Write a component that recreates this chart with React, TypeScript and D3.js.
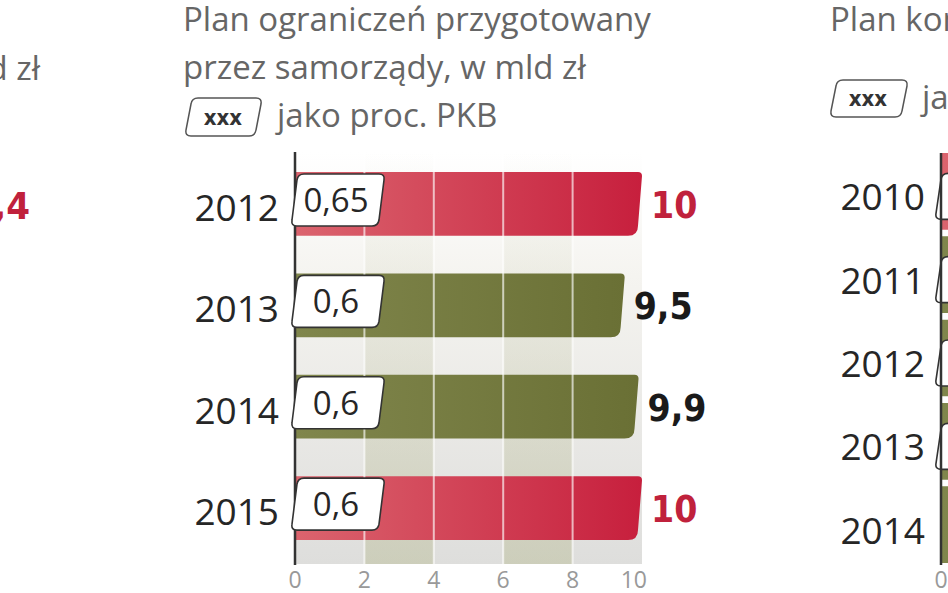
import * as d3 from "d3";

// main panel
const years = ["2012", "2013", "2014", "2015"];
const values = [10, 9.5, 9.9, 10];
const pkb = [0.65, 0.6, 0.6, 0.6];
const redRows = ["2012", "2015"];
const ticks = [0, 2, 4, 6, 8, 10];
const titleLines = ["Plan ograniczeń przygotowany", "przez samorządy, w mld zł"];
const legendText = "jako proc. PKB";

// cut-off neighbour panels
const leftTitleEnd = "w mld zł";
const leftFirstValue = 10.4;
const rightTitle = "Plan konsolidacji finansów publicznych";
const rightYears = ["2010", "2011", "2012", "2013", "2014"];
const rightValues = [10, 10, 10, 10, 10];
const rightRedRows = ["2010"];
const rightBoxRows = ["2010", "2011", "2012", "2013"];

const W = 948;
const H = 593;

const pl = d3.formatLocale({ decimal: ",", thousands: " ", grouping: [3], currency: ["", " zł"] });
const fmt = (v: number) => pl.format("~g")(v);

const titleFont = "'Open Sans', 'DejaVu Sans', sans-serif";
const boldFont = "'Liberation Sans Narrow', 'DejaVu Sans Condensed', 'Liberation Sans', sans-serif";

function barPath(x0: number, x1: number, y: number, h: number) {
  const s = 4, rt = 4, rb = 10;
  return `M${x0},${y} L${x1 - rt},${y} Q${x1},${y} ${x1},${y + rt} L${x1 - s},${y + h - rb} Q${x1 - s},${y + h} ${x1 - s - rb},${y + h} L${x0},${y + h} Z`;
}

function boxPath(x: number, y: number, w: number, h: number) {
  // slanted rounded box, like "/ 0,6 /"
  const s = 7, r = 6;
  const tl = x + s, bl = x, tr = x + w, br = x + w - s;
  return `M${tl + r},${y} L${tr - r},${y} Q${tr},${y} ${tr - 1},${y + r} L${br + 1},${y + h - r} Q${br},${y + h} ${br - r},${y + h} L${bl + r},${y + h} Q${bl},${y + h} ${bl + 1},${y + h - r} L${tl - 1},${y + r} Q${tl},${y} ${tl + r},${y} Z`;
}

export default function App() {
  const x = d3.scaleLinear().domain([0, 10]).range([295, 642]);
  const y = d3.scaleBand<string>().domain(years).range([172, 540]).paddingInner(0.37).paddingOuter(0);
  const bw = y.bandwidth();
  const areaTop = 152, areaBottom = 564;

  const xr = d3.scaleLinear().domain([0, 10]).range([941, 941 + 347]);
  const yr = d3.scaleBand<string>().domain(rightYears).range([153, 563]).paddingInner(0.08).paddingOuter(0);

  return (
    <div style={{ position: "absolute", left: 0, top: 0, width: W, height: H, overflow: "hidden", background: "#fff" }}>
      <svg width={W} height={H} style={{ display: "block" }}>
        <defs>
          <linearGradient id="red" x1="0" x2="1" y1="0" y2="0">
            <stop offset="0" stopColor="#db646e" />
            <stop offset="1" stopColor="#c71f3d" />
          </linearGradient>
          <linearGradient id="olive" x1="0" x2="1" y1="0" y2="0">
            <stop offset="0" stopColor="#80864c" />
            <stop offset="1" stopColor="#6a7035" />
          </linearGradient>
          <linearGradient id="bg" x1="0" x2="0" y1="0" y2="1">
            <stop offset="0" stopColor="#ffffff" />
            <stop offset="0.3" stopColor="#f5f4f0" />
            <stop offset="1" stopColor="#dededc" />
          </linearGradient>
          <linearGradient id="col" x1="0" x2="0" y1="0" y2="1">
            <stop offset="0" stopColor="#b7ba93" stopOpacity="0" />
            <stop offset="1" stopColor="#b7ba93" stopOpacity="0.45" />
          </linearGradient>
        </defs>

        {/* left panel, cut off */}
        <text x={40} y={80} textAnchor="end" fontFamily={titleFont} fontSize={33} fill="#666">{leftTitleEnd}</text>
        <text x={30} y={219} textAnchor="end" fontFamily={boldFont} fontWeight="bold" fontSize={38} fill="#c0213c">{fmt(leftFirstValue)}</text>

        {/* title */}
        {titleLines.map((t, i) => (
          <text key={t} x={183} y={31 + i * 48} fontFamily={titleFont} fontSize={33} fill="#666">{t}</text>
        ))}
        <path d={boxPath(185, 98, 77, 38)} fill="#fff" stroke="#555" strokeWidth={1.5} />
        <text x={223} y={125} textAnchor="middle" fontFamily={boldFont} fontWeight="bold" fontSize={22} fill="#333">xxx</text>
        <text x={277} y={127} fontFamily={titleFont} fontSize={33} fill="#666">{legendText}</text>

        {/* plot background */}
        <rect x={x(0)} y={areaTop} width={x(10) - x(0)} height={areaBottom - areaTop} fill="url(#bg)" />
        {[2, 6].map((t) => (
          <rect key={t} x={x(t)} y={areaTop} width={x(t + 2) - x(t)} height={areaBottom - areaTop} fill="url(#col)" />
        ))}

        {/* bars */}
        {years.map((yr0, i) => (
          <path key={yr0} d={barPath(x(0), x(values[i]), y(yr0)!, bw)}
            fill={redRows.includes(yr0) ? "url(#red)" : "url(#olive)"} />
        ))}

        {/* grid */}
        {ticks.slice(1, -1).map((t) => (
          <line key={t} x1={x(t)} x2={x(t)} y1={areaTop} y2={areaBottom} stroke="#fff" strokeWidth={2} strokeOpacity={0.65} />
        ))}

        {/* axis */}
        <line x1={x(0)} x2={x(0)} y1={areaTop} y2={areaBottom + 1} stroke="#333" strokeWidth={2.5} />
        {ticks.map((t, i) => (
          <text key={t} x={i === ticks.length - 1 ? x(t) + 5 : x(t)} y={588}
            textAnchor={i === ticks.length - 1 ? "end" : "middle"}
            fontFamily={titleFont} fontSize={23} fill="#999">{t}</text>
        ))}

        {/* year labels, pkb boxes, values */}
        {years.map((yr0, i) => {
          const top = y(yr0)!;
          const c = top + bw / 2;
          const red = redRows.includes(yr0);
          return (
            <g key={yr0}>
              <text x={279} y={c + 17} textAnchor="end" fontFamily={titleFont} fontSize={37} fill="#262626">{yr0}</text>
              <path d={boxPath(291, top + 2, 94, 52)} fill="#fff" stroke="#333" strokeWidth={1.6} />
              <text x={336} y={top + 40} textAnchor="middle" fontFamily={titleFont} fontSize={33} fill="#262626">{fmt(pkb[i])}</text>
              <text x={x(values[i]) + 9} y={c + 14} fontFamily={boldFont} fontWeight="bold" fontSize={37}
                fill={red ? "#c0213c" : "#1a1a1a"}>{fmt(values[i])}</text>
            </g>
          );
        })}

        {/* right panel, cut off */}
        <text x={830} y={31} fontFamily={titleFont} fontSize={33} fill="#666">{rightTitle}</text>
        <path d={boxPath(830, 80, 78, 37)} fill="#fff" stroke="#555" strokeWidth={1.5} />
        <text x={868} y={106} textAnchor="middle" fontFamily={boldFont} fontWeight="bold" fontSize={22} fill="#333">xxx</text>
        <text x={922} y={109} fontFamily={titleFont} fontSize={33} fill="#666">{legendText}</text>
        {rightYears.map((r, i) => {
          const top = yr(r)!;
          const h = yr.bandwidth();
          return (
            <g key={r}>
              <path d={barPath(xr(0), xr(rightValues[i]), top, h)} fill={rightRedRows.includes(r) ? "url(#red)" : "url(#olive)"} />
              <text x={925} y={top + h / 2 + 19} textAnchor="end" fontFamily={titleFont} fontSize={37} fill="#262626">{r}</text>
              {rightBoxRows.includes(r) && (
                <path d={boxPath(935, top + h / 2 - 18, 94, 46)} fill="#fff" stroke="#333" strokeWidth={1.6} />
              )}
            </g>
          );
        })}
        <line x1={xr(0)} x2={xr(0)} y1={153} y2={565} stroke="#333" strokeWidth={2.5} />
        <text x={xr(0)} y={588} textAnchor="middle" fontFamily={titleFont} fontSize={23} fill="#999">0</text>
      </svg>
    </div>
  );
}
